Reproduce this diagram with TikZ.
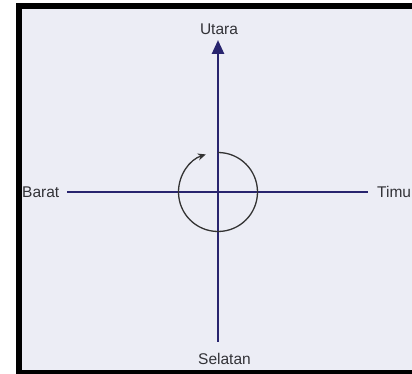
\documentclass[tikz,border=0pt]{standalone}
\usepackage{fontspec}
\setmainfont{Liberation Sans}
\usepackage{xcolor}
\usetikzlibrary{arrows.meta, positioning}
\definecolor{axisblue}{RGB}{40, 36, 110}
\definecolor{paper}{RGB}{236, 237, 245}
\definecolor{labelgray}{RGB}{50, 50, 55}

\begin{document}
\begin{tikzpicture}[
    x=1pt, y=1pt,
    every node/.style={align=center, text=labelgray, font=\fontsize{15.5}{18}\selectfont, inner sep=0pt},
    axis/.style={draw=axisblue, line width=2.6pt},
    turn/.style={draw=black!80, line width=1.3pt}
]
    \useasboundingbox (0,0) rectangle (412,374);
    \clip (0,0) rectangle (412,374);

    % Paper and frame
    \fill[paper] (22,4) rectangle (412,365);
    \fill[black] (16,0) rectangle (22,371);
    \fill[black] (16,365) rectangle (412,371);
    \fill[black] (16,0) rectangle (412,4);

    % Centre and axis ends
    \coordinate (o) at (218,182);
    \coordinate (n) at (218,334);
    \coordinate (s) at (218,32);
    \coordinate (w) at (67,182);
    \coordinate (e) at (368,182);

    % Labels
    \node (utara) at (219,345) {Utara};
    \node (selatan) at (224.5,15) {Selatan};
    \node[anchor=west] (barat) at (22,182) {Barat};
    \node[anchor=west] (timur) at (377,182) {Timu};

    % Axes
    \draw[axis, -{Triangle[length=14pt, width=12pt]}] (s) -- (n);
    \draw[axis] (w) -- (e);

    % Rotation
    \draw[turn, -{Stealth[length=8pt, width=7pt]}] ([shift={(90:39.5)}]o) arc[start angle=90, end angle=-252, radius=39.5];
\end{tikzpicture}
\end{document}
